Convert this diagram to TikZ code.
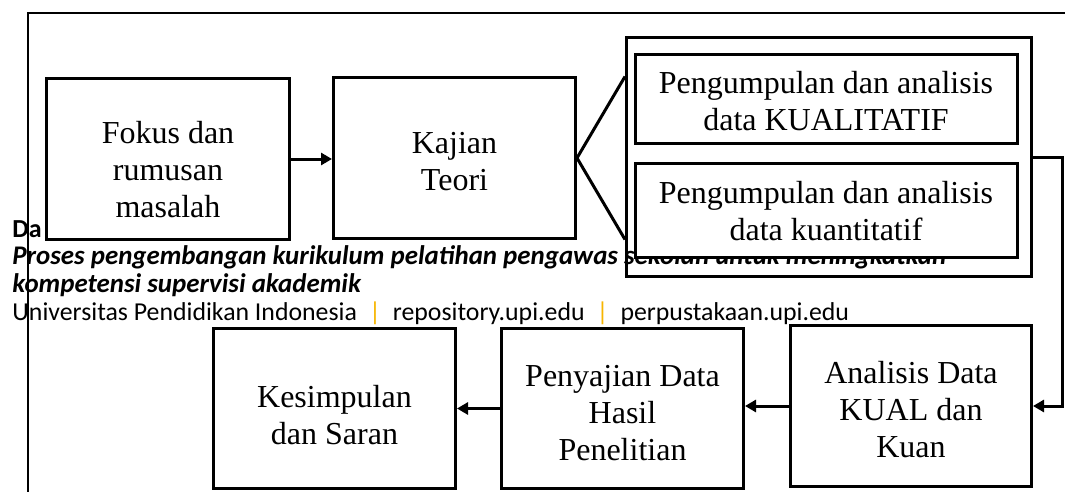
\documentclass[tikz,border=0pt]{standalone}
\usepackage{fontspec}
\setmainfont{Liberation Serif}
\newfontfamily\repofont{Carlito}
\usepackage{tikz}
\usetikzlibrary{arrows.meta, calc, positioning}
\definecolor{pipegold}{RGB}{247,181,0}
\tikzset{box/.style={draw, line width=1.5pt, fill=white, inner sep=0pt},
	boxtext/.style={align=center, inner sep=0pt, font=\fontsize{16}{18.5}\selectfont},
	link/.style={line width=1.5pt, -{Triangle[length=5.5pt,width=6pt]}},
	repo/.style={anchor=base west, inner sep=0pt, font=\repofont\fontsize{12.9}{14}\selectfont},
	repobold/.style={repo, font=\repofont\fontsize{13.45}{14}\selectfont\bfseries\itshape}
}
\newcommand{\gpipe}{\hspace{6pt}{\color{pipegold}|}\hspace{6pt}}

\begin{document}
\begin{tikzpicture}[x=0.5pt, y=-0.5pt]
	\useasboundingbox (0,0) rectangle (1065,492);

	% footer lines of the page behind the figure
	\node[repo, font=\repofont\fontsize{13}{14}\selectfont\bfseries] (da) at (12,237) {Da};
	\node[repobold] (judul) at (12,264) {Proses pengembangan kurikulum pelatihan pengawas sekolah untuk meningkatkan};
	\node[repobold] (judulb) at (12,292) {kompetensi supervisi akademik};
	\node[repo] (univ) at (12,320) {Universitas Pendidikan Indonesia\gpipe repository.upi.edu\gpipe perpustakaan.upi.edu};

	\draw[line width=0.6pt] (1065,13) -- (28,13) -- (28,492);

	% top row
	\node[box, minimum width=121.5pt, minimum height=80.5pt] (fokus) at (168,159) {};
	\node[boxtext] (fokustxt) at (168,170) {Fokus dan\\rumusan\\masalah};
	\node[box, minimum width=121pt, minimum height=80.5pt] (kajian) at (454.5,158) {};
	\node[boxtext] (kajiantxt) at (454.5,161.5) {Kajian\\Teori};

	\node[box, fill=none, minimum width=202.5pt, minimum height=119.5pt] (data) at (829,157) {};
	\node[box, minimum width=191pt, minimum height=44.5pt] (kual) at (826,99) {};
	\node[boxtext] (kualtxt) at (826,101.5) {Pengumpulan dan analisis\\data KUALITATIF};
	\node[box, minimum width=191pt, minimum height=47pt] (kuan) at (826,210.5) {};
	\node[boxtext] (kuantxt) at (826,211) {Pengumpulan dan analisis\\data kuantitatif};

	% bottom row
	\node[box, minimum width=120.5pt, minimum height=80.5pt] (analisis) at (911,406) {};
	\node[boxtext] (analisistxt) at (911,410) {Analisis Data\\KUAL dan\\Kuan};
	\node[box, minimum width=121pt, minimum height=80pt] (penyajian) at (622.5,408.5) {};
	\node[boxtext] (penyajiantxt) at (622.5,413) {Penyajian Data\\Hasil\\Penelitian};
	\node[box, minimum width=121pt, minimum height=80pt] (kesimpulan) at (334.5,408.5) {};
	\node[boxtext] (kesimpulantxt) at (334.5,415) {Kesimpulan\\dan Saran};

	\draw[link] (fokus.east) -- (fokus.east -| kajian.west);
	\draw[line width=1.5pt] ([yshift=-20.25pt]data.north west) -- (kajian.east) -- ([yshift=19.25pt]data.south west);
	\draw[link] (data.east) -- ++(29.5,0) |- (analisis.east);
	\draw[link] (analisis.west) -- (analisis.west -| penyajian.east);
	\draw[link] (penyajian.west) -- (penyajian.west -| kesimpulan.east);
\end{tikzpicture}
\end{document}
